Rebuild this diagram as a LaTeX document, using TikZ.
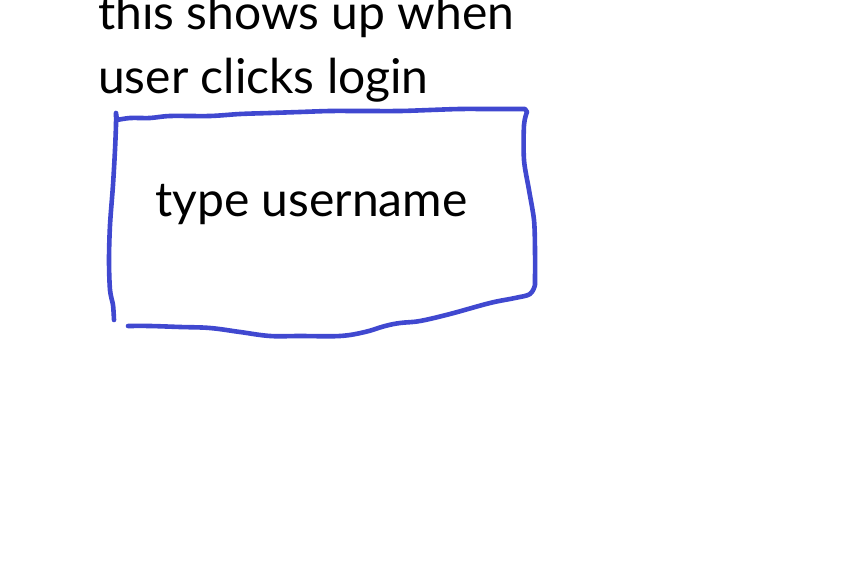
\documentclass[tikz,border=0pt]{standalone}
\usepackage{fontspec}
\setmainfont{Lato}
\definecolor{penblue}{RGB}{64,72,208}
\begin{document}
\begin{tikzpicture}[x=1pt,y=-1pt,
  pen/.style={draw=penblue,line width=4.6pt,line cap=round,line join=round},
  lbl/.style={anchor=base west,inner sep=0pt,font=\fontsize{48}{56}\selectfont}]
\path[use as bounding box,clip] (0,0) rectangle (849,564);
\fill[white] (0,0) rectangle (849,564);
\node[lbl] (l1) at (98,30) {this shows up when};
\node[lbl] (l2) at (98,94) {user clicks login};
\draw[pen] plot[smooth,tension=0.5] coordinates {(114,320) (113,305) (110,290) (109,260) (110,225) (113,185) (115,150) (116,125) (116,113)}
  -- (117,120) plot[smooth,tension=0.5] coordinates {(117,120) (130,118) (150,118) (170,116) (210,116) (240,114) (270,113) (300,112) (330,111) (360,111) (400,111) (430,110) (460,109) (490,109) (525,109)}
  -- (527,112) plot[smooth,tension=0.5] coordinates {(527,112) (524,125) (524,160) (529,190) (534,220) (535,250) (535,285)}
  plot[smooth,tension=0.6] coordinates {(535,285) (530,294) (515,298) (490,303) (450,314) (420,321) (400,323) (385,326) (365,332) (340,336) (300,336) (270,336) (240,332) (210,328) (180,327) (150,326) (128,326)};
\node[lbl] (t) at (155,217) {type username};
\end{tikzpicture}
\end{document}
